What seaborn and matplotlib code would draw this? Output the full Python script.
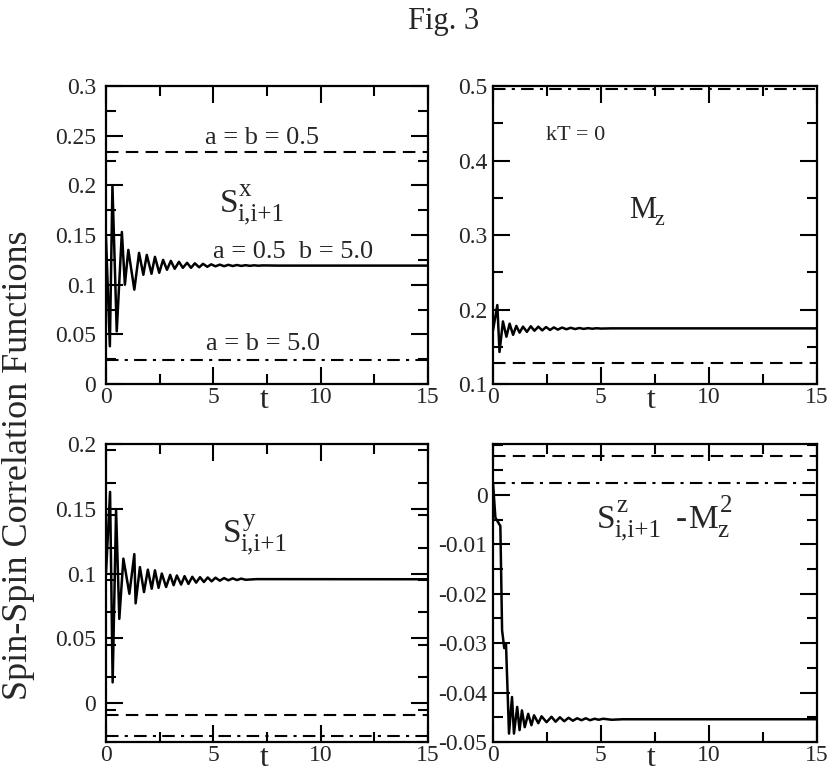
import numpy as np
import matplotlib
matplotlib.use("Agg")
import matplotlib.pyplot as plt
import seaborn as sns

sns.set_style("ticks")
plt.rcParams['font.family'] = ['Liberation Serif', 'DejaVu Serif']

# --- data ---
# S^x_{i,i+1}  (a = 0.5, b = 5.0)
sx_t = [0, 0.18, 0.3, 0.5, 0.74, 0.88, 1.04, 1.32, 1.54, 1.74,
        1.9, 2.12, 2.28, 2.48, 2.66, 2.84, 3.02, 3.2, 3.4, 3.58,
        3.78, 3.96, 4.14, 4.34, 4.52, 4.72, 4.9, 5.1, 5.3, 5.5,
        5.7, 5.9, 6.1, 6.3, 6.5, 6.7, 6.9, 7.1, 7.3, 8, 15]
sx_v = [0.148, 0.038, 0.200, 0.053, 0.153, 0.100, 0.135, 0.095, 0.132, 0.110,
        0.130, 0.111, 0.128, 0.112, 0.125, 0.115, 0.124, 0.116, 0.123, 0.117,
        0.122, 0.117, 0.1215, 0.1175, 0.121, 0.118, 0.1205, 0.1185, 0.1202, 0.1186,
        0.1200, 0.1188, 0.1198, 0.1189, 0.1196, 0.1190, 0.1195, 0.1191, 0.1194, 0.1192, 0.1192]

# M_z
mz_t = [0, 0.2, 0.3, 0.46, 0.62, 0.77, 0.93, 1.08, 1.23, 1.39,
        1.57, 1.75, 1.92, 2.1, 2.28, 2.46, 2.64, 2.82, 3.0, 3.2,
        3.4, 3.6, 3.8, 4.0, 4.2, 4.4, 4.6, 4.8, 5.0, 5.5, 15]
mz_v = [0.172, 0.206, 0.143, 0.184, 0.1635, 0.181, 0.166, 0.178, 0.169, 0.177,
        0.170, 0.1775, 0.1715, 0.177, 0.172, 0.1765, 0.1725, 0.176, 0.173, 0.1758,
        0.1735, 0.1755, 0.1738, 0.1752, 0.174, 0.175, 0.1742, 0.1749, 0.1744, 0.1747, 0.1747]

# S^y_{i,i+1}
sy_t = [0, 0.19, 0.31, 0.47, 0.62, 0.81, 1.09, 1.32, 1.38, 1.58,
        1.77, 1.95, 2.13, 2.28, 2.45, 2.6, 2.8, 2.99, 3.15, 3.3,
        3.5, 3.66, 3.84, 4.02, 4.2, 4.38, 4.56, 4.74, 4.92, 5.1,
        5.3, 5.5, 5.7, 5.9, 6.1, 6.3, 6.5, 7.0, 15]
sy_v = [0.100, 0.163, 0.016, 0.149, 0.065, 0.1115, 0.0844, 0.115, 0.077, 0.105,
        0.0857, 0.103, 0.0883, 0.1025, 0.089, 0.100, 0.0896, 0.099, 0.091, 0.0985,
        0.0915, 0.098, 0.092, 0.0975, 0.093, 0.0972, 0.0935, 0.097, 0.094, 0.0968,
        0.0945, 0.0965, 0.0948, 0.0963, 0.095, 0.0961, 0.0952, 0.0957, 0.0956]

# S^z_{i,i+1} - M_z^2
sz_t = [0, 0.11, 0.34, 0.42, 0.52, 0.6, 0.74, 0.88, 0.97, 1.12,
        1.23, 1.34, 1.47, 1.63, 1.78, 1.9, 2.1, 2.25, 2.48, 2.71,
        2.9, 3.1, 3.3, 3.5, 3.7, 3.9, 4.1, 4.3, 4.5, 4.7,
        4.9, 5.1, 5.5, 6.0, 15]
sz_v = [0.0024, -0.0046, -0.0063, -0.0274, -0.031, -0.030, -0.0483, -0.0409, -0.0483, -0.0429,
        -0.0476, -0.0436, -0.047, -0.0443, -0.0466, -0.0446, -0.0462, -0.0448, -0.046, -0.0449,
        -0.0459, -0.045, -0.0458, -0.0451, -0.0457, -0.0452, -0.0456, -0.0452, -0.0456, -0.0453,
        -0.0455, -0.0453, -0.0455, -0.0454, -0.0454]

# constant values: a = b = 0.5 (dashed) and a = b = 5.0 (dash-dot)
ab05 = [0.2335, 0.1286, -0.0090, 0.0078]
ab50 = [0.0245, 0.4955, -0.0252, 0.0024]

ylims = [(0, 0.3), (0.1, 0.5), (-0.03, 0.2), (-0.05, 0.0103)]
yticks = [[0, 0.05, 0.1, 0.15, 0.2, 0.25, 0.3],
          [0.1, 0.2, 0.3, 0.4, 0.5],
          [0, 0.05, 0.1, 0.15, 0.2],
          [-0.05, -0.04, -0.03, -0.02, -0.01, 0]]
ylabels = [["0", "0.05", "0.1", "0.15", "0.2", "0.25", "0.3"],
           ["0.1", "0.2", "0.3", "0.4", "0.5"],
           ["0", "0.05", "0.1", "0.15", "0.2"],
           ["-0.05", "-0.04", "-0.03", "-0.02", "-0.01", "0"]]
yminor = [0.025, 0.05, 0.025, 0.005]
xticks = [0, 5, 10, 15]


def symbol(ax, x, y, main, sup=None, sub=None, size=24, small=18):
    # big letter with upright super/subscripts placed next to it
    t = ax.text(x, y, main, fontsize=size, ha='left', va='baseline')
    if sup:
        ax.annotate(sup, xy=(1, 1), xycoords=t, xytext=(0.5, -1),
                    textcoords='offset points', fontsize=small, ha='left', va='center')
    if sub:
        ax.annotate(sub, xy=(1, 0), xycoords=t, xytext=(-1, 3),
                    textcoords='offset points', fontsize=small, ha='left', va='center')
    return t


fig = plt.figure(figsize=(8.3, 7.75), dpi=100)
rects = [[0.1277, 0.5045, 0.388, 0.3845],
         [0.594, 0.5045, 0.390, 0.3845],
         [0.1277, 0.0426, 0.388, 0.3845],
         [0.594, 0.0426, 0.390, 0.3845]]
axes = [fig.add_axes(r) for r in rects]
series = [(sx_t, sx_v), (mz_t, mz_v), (sy_t, sy_v), (sz_t, sz_v)]

for i, ax in enumerate(axes):
    t, v = series[i]
    sns.lineplot(x=t, y=v, ax=ax, color='k', lw=1.8)
    ax.axhline(ab05[i], color='k', lw=1.5, dashes=(6, 3.5))
    ax.axhline(ab50[i], color='k', lw=1.5, dashes=(6, 3, 1.5, 3))
    ax.set_xlim(0, 15)
    ax.set_ylim(*ylims[i])
    ax.set_xticks(xticks)
    ax.set_xticklabels([str(x) for x in xticks])
    ax.set_xticks([2.5, 7.5, 12.5], minor=True)
    ax.set_yticks(yticks[i])
    ax.set_yticklabels(ylabels[i])
    lo, hi = ylims[i]
    ax.set_yticks(np.arange(lo, hi + 1e-9, yminor[i]), minor=True)
    ax.tick_params(which='both', direction='in', top=True, right=True,
                   width=1.5, labelsize=17, color='k')
    ax.tick_params(which='major', length=12)
    ax.tick_params(which='minor', length=7)
    ax.tick_params(axis='x', pad=2)
    ax.tick_params(axis='y', pad=7 if i % 2 == 0 else 4)
    for s in ax.spines.values():
        s.set_linewidth(1.6)
        s.set_color('k')
    ax.set_xlabel('t', fontsize=23, va='center')
    ax.xaxis.set_label_coords(0.49, -0.055)

# annotations
ax = axes[0]
ax.text(7.25, 0.248, 'a = b = 0.5', ha='center', va='center', fontsize=19)
symbol(ax, 5.3, 0.1732, 'S', 'x', 'i,i+1')
ax.text(8.7, 0.1334, 'a = 0.5  b = 5.0', ha='center', va='center', fontsize=19)
ax.text(7.3, 0.040, 'a = b = 5.0', ha='center', va='center', fontsize=19)

ax = axes[1]
ax.text(3.84, 0.434, 'kT = 0', ha='center', va='center', fontsize=16)
symbol(ax, 6.3, 0.3228, 'M', None, 'z', size=22, small=16)

ax = axes[2]
symbol(ax, 5.45, 0.1244, 'S', 'y', 'i,i+1')

ax = axes[3]
symbol(ax, 4.81, -0.0067, 'S', 'z', 'i,i+1')
ax.text(8.45, -0.0067, '-', ha='left', va='baseline', fontsize=24)
symbol(ax, 9.1, -0.0067, 'M', '2', 'z')

fig.text(0.534, 0.972, 'Fig. 3', ha='center', va='center', fontsize=22)
fig.text(0.022, 0.40, 'Spin-Spin Correlation Functions', rotation=90,
         ha='center', va='center', fontsize=26)

fig.savefig('out.png', dpi=100)
